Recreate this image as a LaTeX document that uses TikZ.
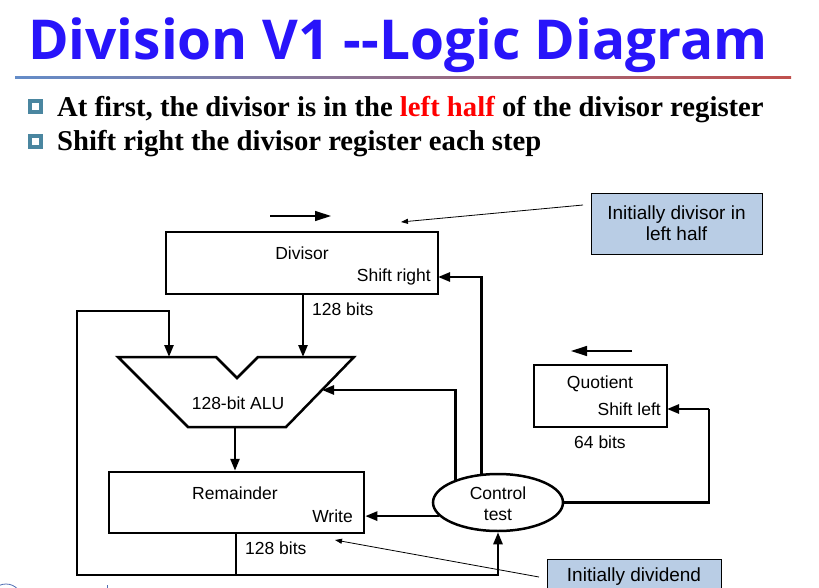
\documentclass[tikz,border=0pt]{standalone}
\usepackage{fontspec}
\setmainfont{Liberation Serif}
\setsansfont{Liberation Sans}
\newfontfamily\titlefont{Open Sans Bold}
\usetikzlibrary{arrows.meta,shapes.geometric,calc}
\definecolor{titleblue}{RGB}{40,20,250}
\definecolor{rulea}{RGB}{100,140,200}
\definecolor{ruleb}{RGB}{192,80,77}
\definecolor{bullet}{RGB}{74,134,160}
\definecolor{callfill}{RGB}{185,205,229}
\definecolor{footblue}{RGB}{80,110,180}
\begin{document}
\begin{tikzpicture}[x=1pt,y=-1pt,
  reg/.style={draw, line width=2.5pt, rectangle, inner sep=0pt},
  lbl/.style={font=\sffamily\fontsize{17.5}{20}\selectfont, inner sep=0pt},
  calltxt/.style={font=\sffamily\fontsize{19}{21}\selectfont, align=center, inner sep=0pt},
  callbox/.style={draw, line width=0.8pt, fill=callfill, inner sep=0pt},
  wire/.style={line width=2.5pt},
  arr/.style={wire, -{Triangle[length=12pt,width=9pt]}},
  thinarr/.style={line width=0.8pt, -{Triangle[length=7pt,width=5pt]}},
  dirarr/.style={line width=1.3pt, -{Triangle[length=16pt,width=10pt]}},
  bsq/.style={draw=bullet, line width=4pt},
  btxt/.style={anchor=base west, font=\bfseries\fontsize{28.7}{32}\selectfont, inner sep=0pt}]
\useasboundingbox (0,0) rectangle (819,588);
\clip (0,0) rectangle (819,588);
\fill[white] (0,0) rectangle (819,588);
% title
\node[anchor=base west, font=\titlefont\fontsize{55}{60}\selectfont, text=titleblue, inner sep=0pt] (title) at (28,60) {Division V1 --Logic Diagram};
\shade[left color=rulea, right color=ruleb] (15,77) rectangle (791,79);
% bullets
\draw[bsq] (29.5,101.5) rectangle (40.5,112.5);
\draw[bsq] (29.5,136.5) rectangle (40.5,147.5);
\node[btxt] (b1) at (57,117) {At first, the divisor is in the \textcolor{red}{left half} of the divisor register};
\node[btxt] (b2) at (57,151) {Shift right the divisor register each step};
% registers
\node[reg, minimum width=272pt, minimum height=62pt] (div) at (302,263) {};
\node[lbl] (divl) at (302,253) {Divisor};
\node[lbl, anchor=east] (divsr) at (431,277) {Shift right};
\node[reg, minimum width=255pt, minimum height=61pt] (rem) at (236.5,502.5) {};
\node[lbl] (reml) at (235,493) {Remainder};
\node[lbl, anchor=east] (remw) at (353,516) {Write};
\node[reg, minimum width=133pt, minimum height=62pt] (quo) at (600.5,396) {};
\node[lbl] (quol) at (600,384) {Quotient};
\node[lbl, anchor=east] (quosl) at (661,409) {Shift left};
\node[ellipse, draw, line width=2.5pt, minimum width=130pt, minimum height=57pt, inner sep=0pt] (ctrl) at (498,502.5) {};
\node[lbl] (ctrl1) at (498,493) {Control};
\node[lbl] (ctrl2) at (498,515) {test};
% ALU
\coordinate (aluA) at (118,357);
\coordinate (aluB) at (216,357);
\coordinate (aluC) at (237,378);
\coordinate (aluD) at (258,357);
\coordinate (aluE) at (354,357);
\coordinate (aluF) at (286,427);
\coordinate (aluG) at (188,427);
\draw[wire, line join=miter] (aluA) -- (aluB) -- (aluC) -- (aluD) -- (aluE) -- (aluF) -- (aluG) -- cycle;
\node[lbl] (alul) at (238,403) {128-bit ALU};
\coordinate (aluin1) at (169,357);
\coordinate (aluin2) at (303,357);
\coordinate (aluctl) at (322,390);
\coordinate (aluout) at (235,427);
% bit labels
\node[lbl, anchor=west] (b128a) at (312,309) {128 bits};
\node[lbl, anchor=west] (b128b) at (245,548) {128 bits};
\node[lbl, anchor=west] (b64) at (574,442) {64 bits};
% wires
\draw[arr] (div.south -| aluin2) -- (aluin2);
\draw[arr] (aluout) -- (aluout |- rem.north);
\coordinate (remout) at (236,533);
\coordinate (loopb) at (236,575);
\coordinate (loopl) at (77,311);
\draw[wire] (remout) -- (loopb) -| (loopl) -| ($(aluin1)+(0,-11)$);
\draw[arr] (169,310) -- (aluin1);
\draw[arr] (loopb) -| (ctrl.south);
\draw[arr] (ctrl.152.6) |- (aluctl);
\coordinate (divin) at (438,277);
\draw[arr] (ctrl.120.1) |- (divin);
\draw[arr] (ctrl.193.3) -- (ctrl.193.3 -| rem.east);
\coordinate (qturn) at (709,409);
\coordinate (qin) at (667,409);
\draw[wire] (ctrl.east) -| (qturn);
\draw[arr] (qturn) -- (qin);
% direction arrows
\coordinate (dA) at (270,216);
\coordinate (dB) at (331,216);
\draw[dirarr] (dA) -- (dB);
\coordinate (qA) at (632,351);
\coordinate (qB) at (571,351);
\draw[dirarr] (qA) -- (qB);
% callouts
\node[callbox, minimum width=171pt, minimum height=61pt] (call1) at (676.5,223.5) {};
\node[calltxt] (call1t) at (676.5,223) {Initially divisor in\\left half};
\node[callbox, minimum width=174pt, minimum height=50pt] (call2) at (634,584) {};
\node[calltxt] (call2t) at (634,577) {Initially dividend};
\coordinate (c1s) at (583,205);
\coordinate (c1e) at (401,222);
\draw[thinarr] (c1s) -- (c1e);
\coordinate (c2s) at (539,577);
\coordinate (c2e) at (335,540);
\draw[thinarr] (c2s) -- (c2e);
% footer fragments
\draw[footblue, line width=0.8pt] (6,600) circle (16);
\draw[footblue, line width=1pt] (107,585) -- (107,588);
\end{tikzpicture}
\end{document}
